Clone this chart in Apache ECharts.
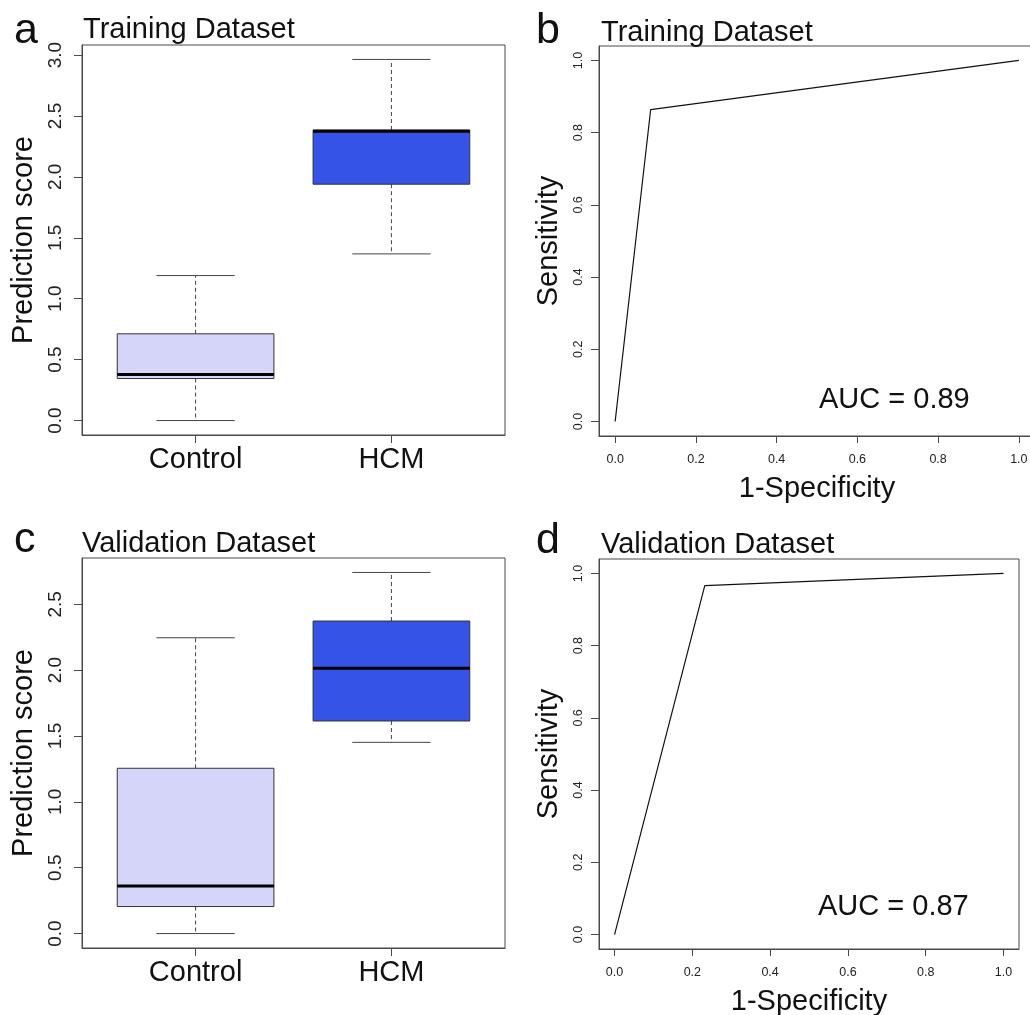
<!DOCTYPE html>
<html><head><meta charset="utf-8">
<script src="https://cdn.jsdelivr.net/npm/echarts@6/dist/echarts.min.js"></script>
<style>html,body{margin:0;padding:0;background:#fff}#c{width:1030px;height:1015px}</style>
</head><body><div id="c"></div>
<script>
// ---------------- data ----------------
const categories = ['Control', 'HCM'];
const catPositions = [1, 2];
// [lower whisker, Q1, median, Q3, upper whisker]
const trainControl = [0.0, 0.345, 0.378, 0.712, 1.19];
const trainHCM = [1.368, 1.94, 2.375, 2.385, 2.964];
const validControl = [0.0, 0.205, 0.362, 1.255, 2.246];
const validHCM = [1.452, 1.614, 2.014, 2.373, 2.742];
// ROC curves [1-specificity, sensitivity]
const trainRoc = [[0, 0], [0.088, 0.864], [1, 1]];
const validRoc = [[0, 0], [0.232, 0.966], [1, 1]];
const trainAuc = '0.89';
const validAuc = '0.87';
// tick labels
const yTicksTrain = [0, 0.5, 1.0, 1.5, 2.0, 2.5, 3.0];
const yTicksValid = [0, 0.5, 1.0, 1.5, 2.0, 2.5];
const rocTicks = [0, 0.2, 0.4, 0.6, 0.8, 1.0];

// ---------------- styles ----------------
const FF = '"Liberation Sans", Arial, Helvetica, sans-serif';
const boxFills = ['#d5d5fa', '#3553e6'];
const BORDER = '#4a4a4a';

const chart = echarts.init(document.getElementById('c'), null, {renderer: 'canvas'});

function boxRender(params, api) {
  const x = api.value(0);
  const p = i => api.coord([x, api.value(i)]);
  const lo = p(1), q1 = p(2), md = p(3), q3 = p(4), hi = p(5);
  const bw = api.size([0.8, 0])[0] / 2;
  const cw = api.size([0.4, 0])[0] / 2;
  const cx = lo[0];
  const fill = boxFills[params.dataIndex];
  const ls = {stroke: '#444', lineWidth: 1};
  return {type: 'group', children: [
    {type: 'line', shape: {x1: cx, y1: q1[1], x2: cx, y2: lo[1]}, style: Object.assign({lineDash: [4, 3]}, ls)},
    {type: 'line', shape: {x1: cx, y1: q3[1], x2: cx, y2: hi[1]}, style: Object.assign({lineDash: [4, 3]}, ls)},
    {type: 'line', shape: {x1: cx - cw, y1: lo[1], x2: cx + cw, y2: lo[1]}, style: ls},
    {type: 'line', shape: {x1: cx - cw, y1: hi[1], x2: cx + cw, y2: hi[1]}, style: ls},
    {type: 'rect', shape: {x: cx - bw, y: q3[1], width: 2 * bw, height: q1[1] - q3[1]}, style: {fill: fill, stroke: '#333', lineWidth: 1}},
    {type: 'line', shape: {x1: cx - bw, y1: md[1], x2: cx + bw, y2: md[1]}, style: {stroke: '#000', lineWidth: 3}}
  ]};
}

function boxData(a, b) {
  return [[catPositions[0]].concat(a), [catPositions[1]].concat(b)];
}

function gridDef(left, top, width, height) {
  return {left, top, width, height, show: true, borderColor: BORDER, borderWidth: 1,
    backgroundColor: 'transparent', containLabel: false, outerBoundsMode: 'none'};
}

function yAxisDef(gridIndex, min, max, ticks, fontSize, margin, name, nameGap) {
  return {type: 'value', gridIndex, min, max, splitLine: {show: false},
    axisLine: {show: true, onZero: false, lineStyle: {color: BORDER, width: 1}},
    axisTick: {show: true, inside: false, length: 8, customValues: ticks, lineStyle: {color: BORDER, width: 1}},
    axisLabel: {show: true, customValues: ticks, rotate: 90, fontSize, margin, color: '#222', fontFamily: FF,
      formatter: v => Number(v).toFixed(1)},
    name, nameLocation: 'middle', nameGap, nameRotate: 90,
    nameTextStyle: {fontSize: 29, fontFamily: FF, color: '#111'}};
}

function xCatAxisDef(gridIndex) {
  return {type: 'value', gridIndex, min: 0.42, max: 2.58, splitLine: {show: false},
    axisLine: {show: true, onZero: false, lineStyle: {color: BORDER, width: 1}},
    axisTick: {show: true, inside: false, length: 8, customValues: catPositions, lineStyle: {color: BORDER, width: 1}},
    axisLabel: {show: true, customValues: catPositions, fontSize: 29, margin: 10, color: '#111', fontFamily: FF,
      formatter: v => categories[catPositions.indexOf(Math.round(v))] || ''}};
}

function xRocAxisDef(gridIndex) {
  return {type: 'value', gridIndex, min: -0.04, max: 1.04, splitLine: {show: false},
    axisLine: {show: true, onZero: false, lineStyle: {color: BORDER, width: 1}},
    axisTick: {show: true, inside: false, length: 7, customValues: rocTicks, lineStyle: {color: BORDER, width: 1}},
    axisLabel: {show: true, customValues: rocTicks, fontSize: 12.5, margin: 17, color: '#222', fontFamily: FF,
      formatter: v => Number(v).toFixed(1)},
    name: '1-Specificity', nameLocation: 'middle', nameGap: 38,
    nameTextStyle: {fontSize: 29, fontFamily: FF, color: '#111'}};
}

function txt(x, y, s, size, align) {
  return {type: 'text', x, y, style: {text: s, font: size + 'px ' + FF, fill: '#111',
    textAlign: align || 'left', textVerticalAlign: 'middle'}};
}

const option = {
  animation: false,
  backgroundColor: '#fff',
  grid: [
    gridDef(82, 45, 423, 390),
    gridDef(599, 46, 436, 390),
    gridDef(82, 558, 423, 390),
    gridDef(599, 559, 420, 390)
  ],
  xAxis: [xCatAxisDef(0), xRocAxisDef(1), xCatAxisDef(2), xRocAxisDef(3)],
  yAxis: [
    yAxisDef(0, -0.1186, 3.0826, yTicksTrain, 19, 17, 'Prediction score', 44),
    yAxisDef(1, -0.04, 1.04, rocTicks, 12.5, 14, 'Sensitivity', 36),
    yAxisDef(2, -0.1097, 2.8517, yTicksValid, 19, 17, 'Prediction score', 44),
    yAxisDef(3, -0.04, 1.04, rocTicks, 12.5, 14, 'Sensitivity', 36)
  ],
  series: [
    {type: 'custom', xAxisIndex: 0, yAxisIndex: 0, renderItem: boxRender, data: boxData(trainControl, trainHCM),
      encode: {x: 0, y: [1, 2, 3, 4, 5]}, clip: false},
    {type: 'line', xAxisIndex: 1, yAxisIndex: 1, data: trainRoc, showSymbol: false, symbol: 'none',
      lineStyle: {color: '#111', width: 1.2}},
    {type: 'custom', xAxisIndex: 2, yAxisIndex: 2, renderItem: boxRender, data: boxData(validControl, validHCM),
      encode: {x: 0, y: [1, 2, 3, 4, 5]}, clip: false},
    {type: 'line', xAxisIndex: 3, yAxisIndex: 3, data: validRoc, showSymbol: false, symbol: 'none',
      lineStyle: {color: '#111', width: 1.2}}
  ],
  graphic: [
    txt(14, 31, 'a', 43), txt(536, 31, 'b', 43), txt(14, 540, 'c', 43), txt(536, 541, 'd', 43),
    txt(83, 30, 'Training Dataset', 29), txt(601, 33, 'Training Dataset', 29),
    txt(82, 544, 'Validation Dataset', 29), txt(601, 545, 'Validation Dataset', 29),
    txt(819, 400, 'AUC = ' + trainAuc, 29), txt(818, 907, 'AUC = ' + validAuc, 29)
  ]
};
chart.setOption(option);
</script>
</body></html>
